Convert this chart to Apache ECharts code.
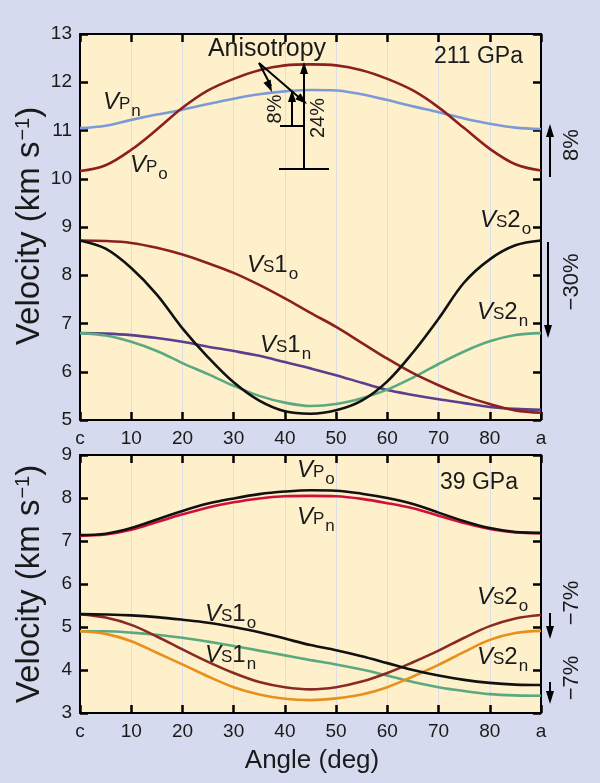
<!DOCTYPE html>
<html>
<head>
<meta charset="utf-8">
<script src="https://cdn.jsdelivr.net/npm/echarts@6/dist/echarts.min.js"></script>
<style>
html,body{margin:0;padding:0;background:#d6daee;}
#c{width:600px;height:783px;}
</style>
</head>
<body>
<div id="c"></div>
<script>
// ---- data ----
const angles = [0,5,10,15,20,25,30,35,40,45,50,55,60,65,70,75,80,85,90];
const xTickLabels = {0:'c',90:'a'};
// 211 GPa
const vpO_211  = [10.16,10.28,10.6,11.02,11.47,11.83,12.07,12.25,12.35,12.37,12.35,12.25,12.07,11.83,11.48,11.05,10.62,10.3,10.17];
const vpN_211  = [11.05,11.1,11.22,11.33,11.43,11.55,11.66,11.75,11.81,11.84,11.83,11.75,11.63,11.5,11.38,11.25,11.14,11.06,11.03];
const vs1O_211 = [8.72,8.71,8.67,8.57,8.43,8.25,8.05,7.8,7.52,7.22,6.93,6.6,6.27,5.97,5.72,5.5,5.33,5.2,5.15];
const vs2O_211 = [8.72,8.55,8.15,7.6,6.9,6.3,5.78,5.4,5.18,5.13,5.2,5.4,5.8,6.4,7.1,7.85,8.33,8.62,8.72];
const vs1N_211 = [6.8,6.79,6.76,6.7,6.62,6.52,6.43,6.33,6.2,6.07,5.93,5.77,5.62,5.52,5.43,5.35,5.27,5.23,5.21];
const vs2N_211 = [6.8,6.75,6.62,6.43,6.18,5.95,5.71,5.5,5.36,5.29,5.33,5.45,5.63,5.88,6.16,6.42,6.63,6.76,6.8];
// 39 GPa
const vpO_39  = [7.14,7.17,7.3,7.5,7.7,7.87,7.99,8.09,8.15,8.18,8.17,8.1,8.0,7.86,7.66,7.46,7.3,7.21,7.19];
const vpN_39  = [7.12,7.15,7.26,7.44,7.62,7.78,7.9,7.99,8.04,8.05,8.04,7.98,7.88,7.76,7.59,7.42,7.28,7.2,7.18];
const vs1O_39 = [5.3,5.29,5.27,5.23,5.17,5.1,5.0,4.88,4.73,4.58,4.46,4.32,4.16,4.0,3.87,3.77,3.7,3.66,3.65];
const vs1N_39 = [4.9,4.9,4.87,4.82,4.75,4.66,4.56,4.45,4.34,4.23,4.13,4.01,3.87,3.72,3.6,3.51,3.44,3.41,3.4];
const vs2O_39 = [5.3,5.22,5.05,4.78,4.48,4.19,3.93,3.72,3.6,3.55,3.6,3.73,3.93,4.18,4.45,4.75,5.02,5.2,5.28];
const vs2N_39 = [4.9,4.84,4.67,4.4,4.13,3.85,3.6,3.43,3.33,3.3,3.34,3.43,3.6,3.85,4.12,4.42,4.7,4.86,4.91];

// ---- styling ----
const FONT = 'Liberation Sans, Arial, Helvetica, sans-serif';
const TXT = '#1a1a1a';
const C = {
  darkred:'#8c1f1f', blue:'#7b9bd7', purple:'#5a3f8f', green:'#5aa980',
  black:'#111111', red:'#d0103a', brown:'#8b2a22', orange:'#e8901a'
};
const pairs = v => angles.map((a,i)=>[a,v[i]]);

function xAx(grid, pos, labels){
  return {
    type:'value', gridIndex:grid, position:pos, min:0, max:90, interval:10,
    axisLine:{show:true, onZero:false, lineStyle:{color:'#000', width:2}},
    axisTick:{show:true, inside:true, length:8, lineStyle:{color:'#000', width:2.5}},
    axisLabel:{show:labels, color:TXT, fontSize:19, margin:9, fontFamily:FONT,
      formatter:v => xTickLabels[v] !== undefined ? xTickLabels[v] : String(v)}
  };
}
function yAx(grid, pos, min, max, labels){
  return {
    type:'value', gridIndex:grid, position:pos, min:min, max:max, interval:1,
    axisLine:{show:true, onZero:false, lineStyle:{color:'#000', width:2}},
    axisTick:{show:true, inside:true, length:8, lineStyle:{color:'#000', width:2.5}},
    axisLabel:{show:labels, color:TXT, fontSize:19, margin:8, fontFamily:FONT},
    splitLine:{show:false}
  };
}
function line(data, color, xi, yi){
  return {type:'line', xAxisIndex:xi, yAxisIndex:yi, data:pairs(data),
    smooth:0.35, symbol:'none', lineStyle:{color:color, width:2.6}};
}

const rich = {
  v:{fontSize:24, fontStyle:'italic', fontFamily:FONT, color:TXT, verticalAlign:'top', lineHeight:24},
  s:{fontSize:17, fontFamily:FONT, color:TXT, verticalAlign:'top', lineHeight:17, padding:[6,0,0,0]},
  n:{fontSize:24, fontFamily:FONT, color:TXT, verticalAlign:'top', lineHeight:24},
  b:{fontSize:17, fontFamily:FONT, color:TXT, verticalAlign:'top', lineHeight:17, padding:[13,0,0,1]}
};
function vlabel(x, baseline, kind, num, sub){
  const t = '{v|V}{s|' + kind + '}' + (num ? '{n|' + num + '}' : '') + '{b|' + sub + '}';
  return {type:'text', x:x, y:baseline-20, style:{text:t, rich:rich, fill:TXT}, z:10};
}
function txt(x, y, s, size, align, rot){
  return {type:'text', x:x, y:y, rotation:rot||0,
    style:{text:s, fontFamily:FONT, fontSize:size, fill:TXT, align:align||'left', verticalAlign:'middle'}, z:10};
}
function seg(x1,y1,x2,y2,w){
  return {type:'line', shape:{x1,y1,x2,y2}, style:{stroke:'#000', lineWidth:w||2}, z:10};
}
function head(xt, yt, xf, yf, L, W){
  const dx = xt-xf, dy = yt-yf, d = Math.sqrt(dx*dx+dy*dy);
  const ux = dx/d, uy = dy/d, px = -uy, py = ux;
  const bx = xt-ux*L, by = yt-uy*L;
  return {type:'polygon', shape:{points:[[xt,yt],[bx+px*W/2,by+py*W/2],[bx-px*W/2,by-py*W/2]]},
    style:{fill:'#000'}, z:11};
}

const R90 = Math.PI/2;
const titleRich = {sup:{fontSize:20, fontFamily:FONT, fill:TXT, verticalAlign:'top', lineHeight:20, padding:[0,0,0,1]}};
function ytitle(cy){
  return {type:'text', x:30, y:cy, rotation:R90,
    style:{text:'Velocity (km s{sup|−1})', rich:titleRich,
      fontFamily:FONT, fontSize:33, fill:TXT, align:'center', verticalAlign:'middle'}, z:10};
}
const graphics = [
    ytitle(226),
    ytitle(584),
    txt(312, 761, 'Angle (deg)', 26, 'center'),
    txt(523, 57, '211 GPa', 23, 'right'),
    txt(518, 483, '39 GPa', 23, 'right'),
    txt(267, 49, 'Anisotropy', 25, 'center'),
    seg(304,169,304,70), head(304,62,304,80,12,8),
    seg(279,169,329,169),
    seg(292,126,292,98), head(292,90,292,110,12,8),
    seg(280,126,304,126),
    seg(259,63,271,86), head(272,92,259,63,12,8),
    seg(259,63,302,100), head(307,104,259,63,12,8),
    txt(275,109,'8%',20,'center',R90),
    txt(318,118,'24%',20,'center',R90),
    seg(550,177,550,134), head(550,124,550,177,13,8),
    txt(572,145,'8%',22,'center',R90),
    seg(548,242,548,328), head(548,338,548,242,13,8),
    txt(572,282,'−30%',22,'center',R90),
    seg(550,613,550,630), head(550,639,550,613,13,8),
    txt(572,603,'−7%',22,'center',R90),
    seg(550,682,550,695), head(550,704,550,682,13,8),
    txt(572,678,'−7%',22,'center',R90),
    vlabel(103,110,'P','', 'n'),
    vlabel(130,173,'P','', 'o'),
    vlabel(247,273,'S','1','o'),
    vlabel(260,353,'S','1','n'),
    vlabel(480,228,'S','2','o'),
    vlabel(477,320,'S','2','n'),
    vlabel(297,478,'P','', 'o'),
    vlabel(297,525,'P','', 'n'),
    vlabel(205,622,'S','1','o'),
    vlabel(205,663,'S','1','n'),
    vlabel(477,605,'S','2','o'),
    vlabel(477,665,'S','2','n')
];

const chart = echarts.init(document.getElementById('c'));
chart.setOption({
  animation:false,
  grid:[
    {left:80, top:34, width:461, height:386, show:true, backgroundColor:'#fdf0ca', borderWidth:0},
    {left:80, top:455, width:461, height:258, show:true, backgroundColor:'#fdf0ca', borderWidth:0}
  ],
  xAxis:[ xAx(0,'bottom',true), xAx(0,'top',false), xAx(1,'bottom',true), xAx(1,'top',false) ],
  yAxis:[ yAx(0,'left',5,13,true), yAx(0,'right',5,13,false), yAx(1,'left',3,9,true), yAx(1,'right',3,9,false) ],
  series:[
    line(vpN_211, C.blue, 0, 0),
    line(vpO_211, C.darkred, 0, 0),
    line(vs1N_211, C.purple, 0, 0),
    line(vs2N_211, C.green, 0, 0),
    line(vs1O_211, C.darkred, 0, 0),
    line(vs2O_211, C.black, 0, 0),
    line(vpN_39, C.red, 2, 2),
    line(vpO_39, C.black, 2, 2),
    line(vs1N_39, C.green, 2, 2),
    line(vs2N_39, C.orange, 2, 2),
    line(vs2O_39, C.brown, 2, 2),
    line(vs1O_39, C.black, 2, 2)
  ],
  graphic:graphics
});
</script>
</body>
</html>
